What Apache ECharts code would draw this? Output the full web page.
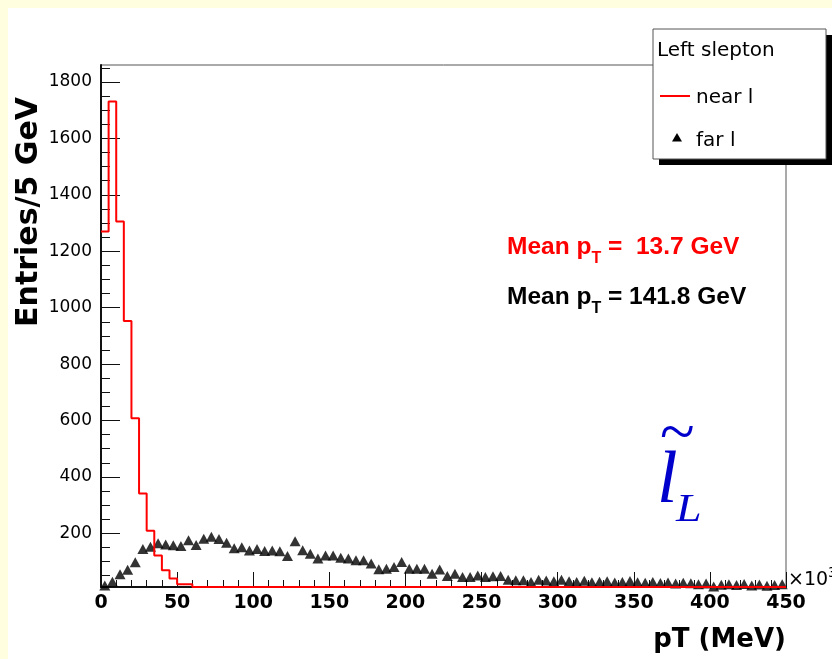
<!DOCTYPE html>
<html>
<head>
<meta charset="utf-8">
<script src="https://cdn.jsdelivr.net/npm/echarts@6/dist/echarts.min.js"></script>
<style>
  html, body { margin: 0; padding: 0; background: #ffffe0; }
  #chart { width: 832px; height: 659px; }
</style>
</head>
<body>
<div id="chart"></div>
<script>
// Histogram binning (GeV per bin) and axis ranges
const binWidth = 5;
const xMin = 0, xMax = 450;
const yMin = 10, yMax = 1860;

// Tick labels
const xTickLabels = [0, 50, 100, 150, 200, 250, 300, 350, 400, 450];
const yTickLabels = [200, 400, 600, 800, 1000, 1200, 1400, 1600, 1800];

// Series names and text
const seriesNames = ['near l', 'far l'];
const legendTitle = 'Left slepton';
const meanNear = '13.7';
const meanFar = '141.8';

// Entries per 5 GeV bin, near lepton (0 - 450 GeV, 90 bins)
const nearCounts = [
  1270, 1731, 1305, 953, 608, 341, 209, 122, 69, 40,
  20, 20, 0, 0, 0, 0, 0, 0, 0, 0,
  0, 0, 0, 0, 0, 0, 0, 0, 0, 0,
  0, 0, 0, 0, 0, 0, 0, 0, 0, 0,
  0, 0, 0, 0, 0, 0, 0, 0, 0, 0,
  0, 0, 0, 0, 0, 0, 0, 0, 0, 0,
  0, 0, 0, 0, 0, 0, 0, 0, 0, 0,
  0, 0, 0, 0, 0, 0, 0, 0, 0, 0,
  0, 0, 0, 0, 0, 0, 0, 0, 0, 0
];

// Entries per 5 GeV bin, far lepton
const farCounts = [
  15, 29, 55, 71, 98, 145, 153, 165, 161, 158,
  155, 176, 159, 181, 188, 180, 167, 147, 151, 139,
  145, 138, 139, 137, 120, 172, 140, 128, 111, 122,
  122, 114, 111, 105, 105, 93, 73, 75, 81, 99,
  75, 75, 75, 57, 72, 49, 57, 45, 45, 51,
  45, 48, 49, 36, 34, 34, 28, 36, 33, 30,
  36, 30, 28, 32, 27, 29, 30, 26, 28, 31,
  27, 25, 28, 24, 26, 22, 25, 23, 20, 22,
  12, 18, 20, 17, 21, 15, 19, 14, 17, 20
];

// Step outline: one point per bin low edge, plus the last high edge.
// Bins below the y-axis minimum are drawn on the axis floor.
const nearLine = nearCounts.map((v, i) => [i * binWidth, Math.max(v, yMin)]);
nearLine.push([nearCounts.length * binWidth, Math.max(nearCounts[nearCounts.length - 1], yMin)]);

// Markers at bin centres (empty bins are not drawn)
const farPoints = farCounts
  .map((v, i) => [(i + 0.5) * binWidth, v])
  .filter(p => p[1] > 0);

// Minor y ticks every 50 entries
const yMinorTicks = [];
for (let v = 50; v < yMax; v += 50) yMinorTicks.push(v);

const SANS = '"DejaVu Sans"';
const ARIAL = '"Liberation Sans"';
const SERIF = '"Liberation Serif"';

const chart = echarts.init(document.getElementById('chart'), null, { renderer: 'canvas' });

const option = {
  backgroundColor: '#ffffff',
  animation: false,
  grid: {
    left: 101, right: 46, top: 65, bottom: 72,
    show: true, borderColor: '#555', borderWidth: 1, backgroundColor: '#fff'
  },
  xAxis: {
    type: 'value', min: xMin, max: xMax, interval: 50,
    axisLine: { lineStyle: { color: '#111', width: 2 } },
    axisTick: { inside: true, length: 15, lineStyle: { color: '#111', width: 1 } },
    minorTick: { show: true, splitNumber: 5, length: 7, lineStyle: { color: '#111', width: 1 } },
    axisLabel: {
      margin: 7, color: '#000', fontFamily: 'DejaVu Sans', fontWeight: 'bold', fontSize: 19,
      formatter: v => (xTickLabels.indexOf(v) >= 0 ? String(v) : '')
    },
    splitLine: { show: false }, minorSplitLine: { show: false }
  },
  yAxis: [
    {
      type: 'value', min: yMin, max: yMax,
      axisLine: { show: true, lineStyle: { color: '#111', width: 2 } },
      axisTick: { show: true, inside: true, length: 19, customValues: yTickLabels, lineStyle: { color: '#111', width: 1 } },
      axisLabel: {
        customValues: yTickLabels, margin: 9, color: '#000', fontFamily: 'DejaVu Sans', fontSize: 17,
        formatter: v => String(v)
      },
      splitLine: { show: false }
    },
    {
      type: 'value', min: yMin, max: yMax, position: 'left',
      axisLine: { show: false },
      axisTick: { show: true, inside: true, length: 9, customValues: yMinorTicks, lineStyle: { color: '#111', width: 1 } },
      axisLabel: { show: false },
      splitLine: { show: false }
    }
  ],
  series: [
    {
      name: seriesNames[1], type: 'scatter', data: farPoints,
      symbol: 'triangle', symbolSize: [11, 10],
      itemStyle: { color: '#000' }, z: 3
    },
    {
      name: seriesNames[0], type: 'line', step: 'end', data: nearLine,
      symbol: 'none', clip: false,
      lineStyle: { color: '#ff0000', width: 2 }, z: 4
    }
  ],
  graphic: [
    // pale frame around the canvas
    { type: 'rect', z: 50, shape: { x: 0, y: 0, width: 832, height: 8 }, style: { fill: '#ffffe0' } },
    { type: 'rect', z: 50, shape: { x: 0, y: 0, width: 8, height: 659 }, style: { fill: '#ffffe0' } },

    // axis titles
    { type: 'text', z: 60, x: 29, y: 212, rotation: Math.PI / 2,
      style: { text: 'Entries/5 GeV', font: 'bold 30px ' + SANS, fill: '#000', align: 'center', verticalAlign: 'middle' } },
    { type: 'text', z: 60, x: 786, y: 640,
      style: { text: 'pT (MeV)', font: 'bold 26px ' + SANS, fill: '#000', align: 'right', verticalAlign: 'middle' } },

    // axis multiplier
    { type: 'text', z: 60, x: 788, y: 580,
      style: {
        text: '×10{sup|3}', font: '19px ' + SANS, fill: '#000', align: 'left', verticalAlign: 'middle',
        lineHeight: 28,
        rich: { sup: { font: '14px ' + SANS, fill: '#000', lineHeight: 14, verticalAlign: 'top' } }
      } },

    // mean values
    { type: 'text', z: 60, x: 507, y: 247,
      style: {
        text: 'Mean p{s|T} =  ' + meanNear + ' GeV', font: 'bold 24.5px ' + ARIAL, fill: '#ff0000',
        align: 'left', verticalAlign: 'middle', lineHeight: 40,
        rich: { s: { font: 'bold 16px ' + ARIAL, fill: '#ff0000', lineHeight: 16, verticalAlign: 'bottom' } }
      } },
    { type: 'text', z: 60, x: 507, y: 297,
      style: {
        text: 'Mean p{s|T} = ' + meanFar + ' GeV', font: 'bold 24.5px ' + ARIAL, fill: '#000',
        align: 'left', verticalAlign: 'middle', lineHeight: 40,
        rich: { s: { font: 'bold 16px ' + ARIAL, fill: '#000', lineHeight: 16, verticalAlign: 'bottom' } }
      } },

    // slepton symbol
    { type: 'text', z: 60, x: 660, y: 436,
      style: { text: '~', font: '64px ' + SERIF, fill: '#0000cc', align: 'left', verticalAlign: 'middle' } },
    { type: 'text', z: 60, x: 657, y: 483,
      style: { text: 'l', font: 'italic 74px ' + SERIF, fill: '#0000cc', align: 'left', verticalAlign: 'middle' } },
    { type: 'text', z: 60, x: 676, y: 511, scaleX: 1.18,
      style: { text: 'L', font: 'italic 39px ' + SERIF, fill: '#0000cc', align: 'left', verticalAlign: 'middle' } },

    // legend box with drop shadow
    { type: 'rect', z: 70, shape: { x: 659, y: 35, width: 173, height: 130 }, style: { fill: '#000' } },
    { type: 'rect', z: 71, shape: { x: 653, y: 29, width: 173, height: 130 }, style: { fill: '#fff', stroke: '#555', lineWidth: 1 } },
    { type: 'text', z: 72, x: 657, y: 51,
      style: { text: legendTitle, font: '20px ' + SANS, fill: '#000', align: 'left', verticalAlign: 'middle' } },
    { type: 'line', z: 72, shape: { x1: 660, y1: 96, x2: 690, y2: 96 }, style: { stroke: '#ff0000', lineWidth: 2 } },
    { type: 'text', z: 72, x: 696, y: 98,
      style: { text: seriesNames[0], font: '20px ' + SANS, fill: '#000', align: 'left', verticalAlign: 'middle' } },
    { type: 'polygon', z: 72, shape: { points: [[677, 133], [682, 141.5], [672, 141.5]] }, style: { fill: '#000' } },
    { type: 'text', z: 72, x: 696, y: 141,
      style: { text: seriesNames[1], font: '20px ' + SANS, fill: '#000', align: 'left', verticalAlign: 'middle' } }
  ]
};

chart.setOption(option);
</script>
</body>
</html>
